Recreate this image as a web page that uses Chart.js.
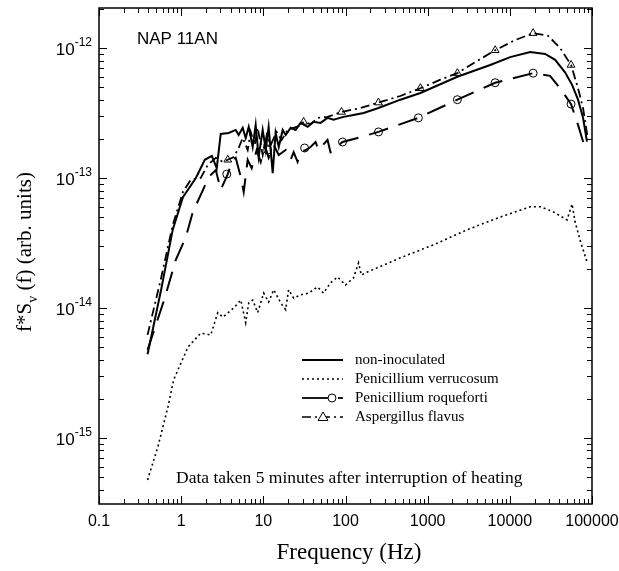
<!DOCTYPE html>
<html>
<head>
<meta charset="utf-8">
<script src="https://cdn.jsdelivr.net/npm/chart.js@4.4.1/dist/chart.umd.min.js"></script>
<style>
  html, body { margin: 0; padding: 0; background: #fff; }
</style>
</head>
<body>
<canvas id="chart" width="619" height="571"></canvas>
<script>
// data (Hz, arb. units)
const freq_noninoc = [0.39, 0.57, 0.79, 1.05, 1.51, 1.94, 2.36, 2.71, 3.03, 3.79, 4.61, 5.01, 5.61, 6.10, 6.64, 7.42, 8.07, 8.77, 9.82, 10.7, 11.6, 13.0, 14.1, 15.4, 17.2, 18.7, 21.5, 24.7, 28.4, 34.6, 40.8, 49.7, 60.4, 71.5, 94.6, 125, 166, 252, 466, 815, 2300, 5770, 10100, 17700, 26900, 35600, 47000, 57200, 67600, 77800, 86900];
const s_noninoc = [4.4e-15, 1.38e-14, 4.0e-14, 7.1e-14, 1.0e-13, 1.38e-13, 1.48e-13, 1.19e-13, 2.18e-13, 2.22e-13, 2.34e-13, 2.14e-13, 2.43e-13, 2.03e-13, 2.47e-13, 1.73e-13, 2.56e-13, 1.45e-13, 2.34e-13, 1.64e-13, 2.47e-13, 1.09e-13, 2.22e-13, 1.73e-13, 2.34e-13, 2.14e-13, 2.43e-13, 2.34e-13, 2.65e-13, 2.47e-13, 2.7e-13, 2.65e-13, 2.9e-13, 2.8e-13, 2.95e-13, 3.05e-13, 3.16e-13, 3.45e-13, 4.0e-13, 4.5e-13, 6.0e-13, 7.4e-13, 8.5e-13, 9.3e-13, 9.0e-13, 8.1e-13, 6.5e-13, 5.2e-13, 4.0e-13, 2.9e-13, 1.9e-13];

const freq_verr = [0.39, 0.52, 0.69, 0.81, 1.21, 1.73, 2.29, 2.79, 3.21, 4.36, 5.31, 6.10, 6.64, 7.42, 8.53, 10.1, 11.6, 13.4, 16.3, 18.7, 20.3, 23.4, 28.4, 35.5, 45.7, 54.0, 65.7, 80.0, 100, 125, 144, 156, 185, 466, 1170, 3030, 7640, 17700, 23400, 33600, 49700, 57200, 62200, 71500, 86900];
const s_verr = [4.75e-16, 8.5e-16, 1.73e-15, 2.8e-15, 5.0e-15, 6.4e-15, 6.2e-15, 9.2e-15, 8.5e-15, 1.0e-14, 1.15e-14, 7.7e-15, 1.09e-14, 1.15e-14, 9.2e-15, 1.30e-14, 1.11e-14, 1.38e-14, 1.09e-14, 9.7e-15, 1.38e-14, 1.19e-14, 1.26e-14, 1.30e-14, 1.45e-14, 1.30e-14, 1.56e-14, 1.73e-14, 1.50e-14, 1.70e-14, 2.22e-14, 1.79e-14, 1.89e-14, 2.43e-14, 3.05e-14, 4.0e-14, 5.0e-14, 6.0e-14, 6.0e-14, 5.5e-14, 4.75e-14, 6.3e-14, 4.6e-14, 3.33e-14, 2.26e-14];

const freq_roq = [0.39, 0.62, 0.86, 1.14, 1.39, 1.73, 2.17, 2.64, 3.03, 3.69, 4.24, 4.61, 5.31, 5.77, 6.45, 7.21, 8.3, 9.29, 10.4, 11.6, 13.4, 15.4, 18.7, 21.5, 23.4, 26.1, 28.4, 32.7, 37.6, 43.2, 47.0, 60.4, 65.7, 92, 140, 252, 771, 2300, 6630, 19200, 30900, 40900, 55600, 67600, 82200];
const s_roq = [4.75e-15, 1.15e-14, 2.34e-14, 3.5e-14, 5.5e-14, 7.4e-14, 1.02e-13, 1.15e-13, 8.1e-14, 1.07e-13, 1.38e-13, 1.43e-13, 1.02e-13, 7.8e-14, 1.38e-13, 1.19e-13, 1.64e-13, 1.33e-13, 1.79e-13, 1.43e-13, 1.79e-13, 1.50e-13, 1.64e-13, 1.38e-13, 1.58e-13, 1.33e-13, 1.58e-13, 1.64e-13, 1.73e-13, 1.89e-13, 1.64e-13, 1.96e-13, 1.58e-13, 1.89e-13, 2.03e-13, 2.26e-13, 2.9e-13, 4.0e-13, 5.4e-13, 6.4e-13, 6.1e-13, 4.9e-13, 3.7e-13, 2.56e-13, 1.70e-13];

const freq_asp = [0.39, 0.57, 0.79, 1.05, 1.31, 1.73, 2.11, 2.64, 3.21, 3.69, 4.36, 5.01, 5.61, 6.45, 7.02, 7.85, 8.53, 9.82, 11.0, 12.3, 14.5, 16.7, 19.8, 23.4, 26.9, 30.9, 37.6, 47.0, 60.4, 89.4, 152, 252, 466, 815, 1430, 2300, 3800, 6630, 11600, 19200, 29200, 40900, 55600, 67600, 77800, 89500];
const s_asp = [6.2e-15, 1.7e-14, 4.35e-14, 7.8e-14, 9.7e-14, 1.0e-13, 1.26e-13, 1.43e-13, 1.33e-13, 1.38e-13, 1.45e-13, 1.70e-13, 2.03e-13, 1.64e-13, 2.26e-13, 1.79e-13, 2.43e-13, 1.50e-13, 2.14e-13, 1.79e-13, 2.26e-13, 1.96e-13, 2.34e-13, 2.43e-13, 2.5e-13, 2.7e-13, 2.6e-13, 2.9e-13, 2.95e-13, 3.22e-13, 3.45e-13, 3.8e-13, 4.27e-13, 4.9e-13, 5.7e-13, 6.4e-13, 7.8e-13, 9.6e-13, 1.15e-12, 1.30e-12, 1.24e-12, 1.0e-12, 7.4e-13, 4.9e-13, 3.45e-13, 1.96e-13];

// marker positions
const freq_roq_mk = [3.59, 11.3, 31.8, 92, 252, 771, 2300, 6630, 19200, 55600];
const s_roq_mk = [1.07e-13, 1.64e-13, 1.70e-13, 1.89e-13, 2.26e-13, 2.9e-13, 4.0e-13, 5.4e-13, 6.4e-13, 3.7e-13];
const freq_asp_mk = [3.69, 11.3, 30.9, 89.4, 252, 815, 2300, 6630, 19200, 55600];
const s_asp_mk = [1.38e-13, 1.86e-13, 2.7e-13, 3.22e-13, 3.8e-13, 4.9e-13, 6.4e-13, 9.6e-13, 1.30e-12, 7.4e-13];

// ticks
const x_major = [0.1, 1, 10, 100, 1000, 10000, 100000];
const x_labels = ['0.1', '1', '10', '100', '1000', '10000', '100000'];
const y_major = [1e-15, 1e-14, 1e-13, 1e-12];
const y_exp = ['-15', '-14', '-13', '-12'];

const legend_names = ['non-inoculated', 'Penicillium verrucosum', 'Penicillium roqueforti', 'Aspergillus flavus'];

const SANS = '"Liberation Sans", Arial, sans-serif';
const SERIF = '"Liberation Serif", "Times New Roman", serif';

const DASH_VERR = [2, 3];
const DASH_ROQ = [20, 11];
const DASH_ASP = [9, 4, 2, 4];

function pts(xs, ys) {
  return xs.map((x, i) => ({ x: x, y: ys[i] }));
}

function line_ds(xs, ys, dash, width) {
  return {
    data: pts(xs, ys),
    showLine: true,
    borderColor: '#000',
    borderWidth: width,
    borderDash: dash,
    pointRadius: 0,
    tension: 0
  };
}

function marker_ds(xs, ys, style, r) {
  return {
    data: pts(xs, ys),
    showLine: false,
    pointStyle: style,
    pointRadius: r,
    pointBorderColor: '#000',
    pointBackgroundColor: 'rgba(0,0,0,0)',
    pointBorderWidth: 1
  };
}

// frame, inward ticks, labels, legend, notes
const deco_plugin = {
  id: 'deco',
  afterDraw(chart) {
    const ctx = chart.ctx;
    const a = chart.chartArea;
    const xs = chart.scales.x, ys = chart.scales.y;
    ctx.save();
    ctx.strokeStyle = '#000';
    ctx.fillStyle = '#000';
    ctx.setLineDash([]);

    // frame
    ctx.lineWidth = 1.5;
    ctx.strokeRect(a.left, a.top, a.right - a.left, a.bottom - a.top);

    // x ticks (bottom and top)
    ctx.lineWidth = 1;
    ctx.beginPath();
    for (let d = 0.1; d <= 100000 * 1.001; d *= 10) {
      for (let m = 1; m <= 9; m++) {
        const v = d * m;
        if (v > 100000 * 1.001) break;
        const px = Math.round(xs.getPixelForValue(v)) + 0.5;
        const len = m === 1 ? 8 : 5;
        ctx.moveTo(px, a.bottom); ctx.lineTo(px, a.bottom - len);
        ctx.moveTo(px, a.top); ctx.lineTo(px, a.top + len);
      }
    }
    // y ticks (left and right)
    for (let d = 1e-16; d <= 1e-12 * 1.001; d *= 10) {
      for (let m = 1; m <= 9; m++) {
        const v = d * m;
        if (v < ys.min || v > ys.max) continue;
        const py = Math.round(ys.getPixelForValue(v)) + 0.5;
        const len = m === 1 ? 8 : 5;
        ctx.moveTo(a.left, py); ctx.lineTo(a.left + len, py);
        ctx.moveTo(a.right, py); ctx.lineTo(a.right - len, py);
      }
    }
    ctx.stroke();

    // x tick labels
    ctx.font = '16px ' + SANS;
    ctx.textAlign = 'center';
    ctx.textBaseline = 'middle';
    x_major.forEach((v, i) => {
      ctx.fillText(x_labels[i], xs.getPixelForValue(v), a.bottom + 18);
    });

    // y tick labels 10^n
    y_major.forEach((v, i) => {
      const py = ys.getPixelForValue(v);
      ctx.font = '12px ' + SANS;
      const w2 = ctx.measureText(y_exp[i]).width;
      ctx.font = '17px ' + SANS;
      const w1 = ctx.measureText('10').width;
      const right = a.left - 7;
      ctx.textAlign = 'left';
      ctx.fillText('10', right - w2 - w1, py + 2);
      ctx.font = '12px ' + SANS;
      ctx.fillText(y_exp[i], right - w2, py - 5);
    });

    // x title
    ctx.font = '23px ' + SERIF;
    ctx.textAlign = 'center';
    ctx.fillText('Frequency (Hz)', 349, 553);

    // y title with subscript v
    ctx.save();
    ctx.translate(24, 252);
    ctx.rotate(-Math.PI / 2);
    ctx.font = '21px ' + SERIF;
    const p1 = 'f*S', p3 = ' (f) (arb. units)';
    const w_p1 = ctx.measureText(p1).width;
    const w_p3 = ctx.measureText(p3).width;
    ctx.font = '14px ' + SERIF;
    const w_sub = ctx.measureText('v').width;
    const total = w_p1 + w_sub + w_p3;
    let x0 = -total / 2;
    ctx.textAlign = 'left';
    ctx.textBaseline = 'alphabetic';
    ctx.font = '21px ' + SERIF;
    ctx.fillText(p1, x0, 7);
    ctx.font = '14px ' + SERIF;
    ctx.fillText('v', x0 + w_p1, 13);
    ctx.font = '21px ' + SERIF;
    ctx.fillText(p3, x0 + w_p1 + w_sub, 7);
    ctx.restore();

    // panel label and note
    ctx.textAlign = 'left';
    ctx.textBaseline = 'alphabetic';
    ctx.font = '17px ' + SANS;
    ctx.fillText('NAP 11AN', 137, 44);
    ctx.font = '17.5px ' + SERIF;
    ctx.textBaseline = 'middle';
    ctx.fillText('Data taken 5 minutes after interruption of heating', 176, 478);

    // legend
    const lx0 = 302, lx1 = 343, tx = 355;
    const rows = [360, 379, 398, 417];
    ctx.font = '15px ' + SERIF;
    legend_names.forEach((name, i) => ctx.fillText(name, tx, rows[i]));

    ctx.lineWidth = 1.8;
    ctx.beginPath(); ctx.moveTo(lx0, rows[0]); ctx.lineTo(lx1, rows[0]); ctx.stroke();

    ctx.lineWidth = 1.5;
    ctx.setLineDash(DASH_VERR);
    ctx.beginPath(); ctx.moveTo(lx0, rows[1]); ctx.lineTo(lx1, rows[1]); ctx.stroke();

    ctx.setLineDash([]);
    ctx.lineWidth = 1.8;
    ctx.beginPath(); ctx.moveTo(lx0, rows[2]); ctx.lineTo(328, rows[2]); ctx.stroke();
    ctx.beginPath(); ctx.moveTo(338, rows[2]); ctx.lineTo(lx1, rows[2]); ctx.stroke();
    ctx.lineWidth = 1;
    ctx.beginPath(); ctx.arc(332, rows[2], 4, 0, Math.PI * 2); ctx.stroke();

    ctx.lineWidth = 1.5;
    ctx.setLineDash(DASH_ASP);
    ctx.beginPath(); ctx.moveTo(lx0, rows[3]); ctx.lineTo(lx1, rows[3]); ctx.stroke();
    ctx.setLineDash([]);
    ctx.lineWidth = 1;
    ctx.fillStyle = '#fff';
    ctx.beginPath();
    ctx.moveTo(323, rows[3] - 5); ctx.lineTo(328, rows[3] + 3.5); ctx.lineTo(318, rows[3] + 3.5); ctx.closePath();
    ctx.fill(); ctx.stroke();

    ctx.restore();
  }
};

const ctx = document.getElementById('chart').getContext('2d');
new Chart(ctx, {
  type: 'scatter',
  data: {
    datasets: [
      line_ds(freq_noninoc, s_noninoc, [], 2),
      line_ds(freq_verr, s_verr, DASH_VERR, 1.6),
      line_ds(freq_roq, s_roq, DASH_ROQ, 2),
      line_ds(freq_asp, s_asp, DASH_ASP, 1.8),
      marker_ds(freq_roq_mk, s_roq_mk, 'circle', 4),
      marker_ds(freq_asp_mk, s_asp_mk, 'triangle', 4.5)
    ]
  },
  options: {
    responsive: false,
    animation: false,
    layout: { padding: { left: 99, right: 27, top: 8, bottom: 67 } },
    scales: {
      x: { type: 'logarithmic', min: 0.1, max: 100000, display: false },
      y: { type: 'logarithmic', min: 3.1e-16, max: 2.03e-12, display: false }
    },
    plugins: { legend: { display: false }, tooltip: { enabled: false } }
  },
  plugins: [deco_plugin]
});
</script>
</body>
</html>
